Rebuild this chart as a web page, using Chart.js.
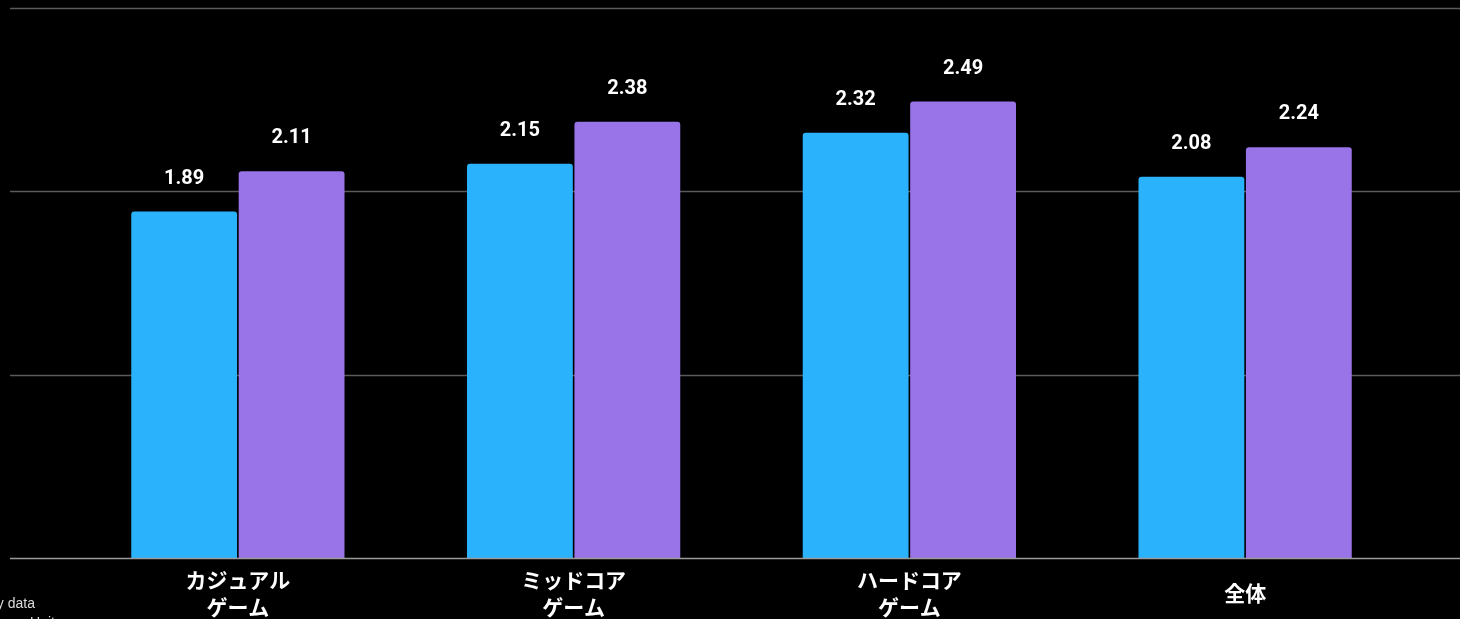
<!DOCTYPE html>
<html>
<head>
<meta charset="utf-8">
<script src="https://cdn.jsdelivr.net/npm/chart.js@4"></script>
<style>
  html, body { margin: 0; padding: 0; background: #000; }
  #wrap { width: 1460px; height: 619px; }
</style>
</head>
<body>
<div id="wrap"><canvas id="chart" width="1460" height="619"></canvas></div>
<script>
// data
const categories = [['カジュアル', 'ゲーム'], ['ミッドコア', 'ゲーム'], ['ハードコア', 'ゲーム'], ['全体']];
const seriesA = [1.89, 2.15, 2.32, 2.08];
const seriesB = [2.11, 2.38, 2.49, 2.24];
const yTicks = [0, 1, 2, 3];

const FONT = "Roboto, 'Noto Sans CJK JP', sans-serif";

// horizontal grid lines across the full width, baseline on top of bars
const gridPlugin = {
    id: 'fullGrid',
    beforeDatasetsDraw(chart) {
        const { ctx, scales: { y } } = chart;
        ctx.save();
        ctx.strokeStyle = '#5a5a5a';
        ctx.lineWidth = 1.5;
        yTicks.slice(1).forEach(v => {
            const py = Math.round(y.getPixelForValue(v)) + 0.5;
            ctx.beginPath();
            ctx.moveTo(10, py);
            ctx.lineTo(chart.width, py);
            ctx.stroke();
        });
        ctx.restore();
    },
    afterDatasetsDraw(chart) {
        const { ctx, scales: { x, y } } = chart;
        ctx.save();
        const py = Math.round(y.getPixelForValue(0)) + 0.5;
        ctx.strokeStyle = '#9a9a9a';
        ctx.lineWidth = 1.5;
        ctx.beginPath();
        ctx.moveTo(10, py);
        ctx.lineTo(chart.width, py);
        ctx.stroke();

        // value labels
        ctx.fillStyle = '#ffffff';
        ctx.font = 'bold 20px ' + FONT;
        ctx.textAlign = 'center';
        ctx.textBaseline = 'middle';
        chart.data.datasets.forEach((ds, i) => {
            chart.getDatasetMeta(i).data.forEach((bar, j) => {
                ctx.fillText(ds.data[j].toFixed(2), bar.x, bar.y - 33);
            });
        });

        // category labels, vertically centred like the reference
        ctx.font = 'bold 21px ' + FONT;
        const lineH = 27;
        const mid = 596;
        categories.forEach((lines, i) => {
            const cx = x.getPixelForValue(i);
            const top = mid - (lines.length - 1) * lineH / 2;
            lines.forEach((t, k) => ctx.fillText(t, cx, top + k * lineH));
        });

        // clipped footer note
        ctx.font = '14px Arial, sans-serif';
        ctx.fillStyle = '#dddddd';
        ctx.textAlign = 'right';
        ctx.textBaseline = 'alphabetic';
        ctx.fillText('Gameplay data', 35, 608);
        ctx.fillText('Source: Unity', 62, 627);
        ctx.restore();
    }
};

new Chart(document.getElementById('chart').getContext('2d'), {
    type: 'bar',
    data: {
        labels: categories,
        datasets: [{
            label: 'A',
            data: seriesA,
            backgroundColor: '#2bb2fc',
            borderRadius: { topLeft: 3, topRight: 3 },
            borderSkipped: 'bottom',
            barPercentage: 0.985,
            categoryPercentage: 0.64,
        }, {
            label: 'B',
            data: seriesB,
            backgroundColor: '#9973e8',
            borderRadius: { topLeft: 3, topRight: 3 },
            borderSkipped: 'bottom',
            barPercentage: 0.985,
            categoryPercentage: 0.64,
        }],
    },
    options: {
        responsive: false,
        animation: false,
        layout: { padding: { left: 70, right: 47, top: 8, bottom: 0 } },
        plugins: {
            legend: { display: false },
            tooltip: { enabled: false },
        },
        scales: {
            x: {
                grid: { display: false },
                border: { display: false },
                ticks: { display: false },
                afterFit: (scale) => { scale.height = 61; },
            },
            y: {
                display: false,
                min: 0,
                max: 3,
                afterBuildTicks: (scale) => { scale.ticks = yTicks.map(v => ({ value: v })); },
            },
        },
    },
    plugins: [gridPlugin],
});
</script>
</body>
</html>
